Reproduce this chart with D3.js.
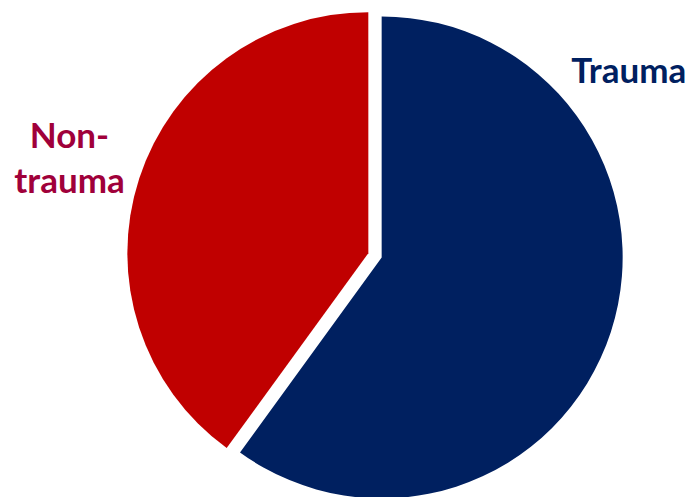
<!DOCTYPE html>
<html><head><meta charset="utf-8">
<script src="https://cdn.jsdelivr.net/npm/d3@7"></script>
<style>html,body{margin:0;padding:0;background:#fff;overflow:hidden}</style>
</head><body>
<svg id="chart" width="689" height="497"></svg>
<script>
const categories = ["Trauma", "Non-trauma"];
const values = [60, 40];
const sliceColors = ["#002060", "#C00000"];
const labelColors = ["#002060", "#A0003A"];
const labelLines = [["Trauma"], ["Non-", "trauma"]];

const svg = d3.select("#chart");
const cx = 375, cy = 255.3, R = 241, explode = 7;

const pie = d3.pie().sort(null).value(d => d.v);
const arcs = pie(categories.map((c, i) => ({c, v: values[i], i})));
const arc = d3.arc().innerRadius(0).outerRadius(R);

const g = svg.append("g").attr("transform", `translate(${cx},${cy})`);
g.selectAll("path").data(arcs).join("path")
  .attr("d", arc)
  .attr("fill", d => sliceColors[d.data.i])
  .attr("transform", d => {
    const m = (d.startAngle + d.endAngle) / 2;
    return `translate(${explode * Math.sin(m)},${-explode * Math.cos(m)})`;
  });

const labelPos = [[628.8, 83.3], [69.5, 147.7]];
const lineH = 45.6;
categories.forEach((c, i) => {
  const t = svg.append("text")
    .attr("x", labelPos[i][0]).attr("y", labelPos[i][1])
    .attr("text-anchor", "middle")
    .attr("fill", labelColors[i])
    .attr("font-family", "Lato, sans-serif")
    .attr("font-weight", "bold")
    .attr("font-size", 35);
  labelLines[i].forEach((ln, j) => {
    t.append("tspan").attr("x", labelPos[i][0]).attr("y", labelPos[i][1] + j * lineH).text(ln);
  });
});
</script>
</body></html>
